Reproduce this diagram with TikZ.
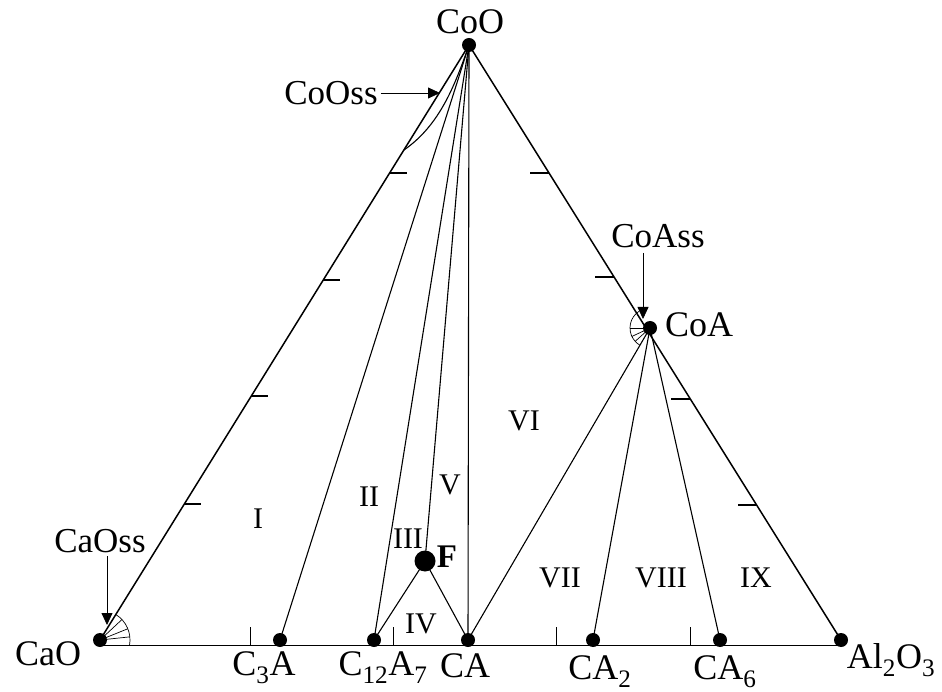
\documentclass[tikz,border=0pt]{standalone}
\usepackage{fontspec}
\setmainfont{Liberation Serif}
\usetikzlibrary{arrows.meta}
\begin{document}
\begin{tikzpicture}[x=1pt,y=-1pt,
  dot/.style={circle,fill=black,inner sep=0pt,minimum size=14pt},
  bigdot/.style={circle,fill=black,inner sep=0pt,minimum size=21pt},
  lab/.style={font=\fontsize{36}{40}\selectfont,inner sep=0pt},
  sslab/.style={font=\fontsize{35}{38}\selectfont,inner sep=0pt},
  reg/.style={font=\fontsize{30}{34}\selectfont,inner sep=0pt},
  flab/.style={font=\fontsize{33}{36}\selectfont\bfseries,inner sep=0pt},
  edgeline/.style={line width=1.5pt},
  tie/.style={line width=1.1pt},
  fine/.style={line width=0.7pt},
  arr/.style={line width=0.8pt,-{Triangle[length=12pt,width=11pt]}},
]
\useasboundingbox (0,0) rectangle (942,692);
% points
\node[dot] (CoO) at (469,45) {};
\node[dot] (CaO) at (100,640) {};
\node[dot] (Al2O3) at (841,640) {};
\node[dot] (C3A) at (280,640) {};
\node[dot] (C12A7) at (374,640) {};
\node[dot] (CA) at (468,640) {};
\node[dot] (CA2) at (593,640) {};
\node[dot] (CA6) at (720,640) {};
\node[dot] (CoA) at (650,328) {};
\node[bigdot] (F) at (425,561) {};
\coordinate (B0) at (100,645);
\coordinate (B1) at (841,645);
% baseline and edges
\draw[fine] (B0) -- (B1);
\draw[edgeline] (CoO.center) -- (CaO.center);
\draw[edgeline] (CoO.center) -- (Al2O3.center);
% tie lines
\draw[tie] (CoO.center) -- (C3A.center);
\draw[tie] (CoO.center) -- (C12A7.center);
\draw[tie] (CoO.center) -- (F.center);
\draw[tie] (CoO.center) -- (CA.center);
\draw[tie] (F.center) -- (C12A7.center);
\draw[tie] (F.center) -- (CA.center);
\draw[tie] (CoA.center) -- (CA.center);
\draw[tie] (CoA.center) -- (CA2.center);
\draw[tie] (CoA.center) -- (CA6.center);
% CoOss boundary
\coordinate (Lss) at (404,150);
\draw[tie] (CoO.center) .. controls (455,85) and (440,125) .. (Lss);
% CaO fan
\draw[fine] (CaO.center) ++(-58:30) arc[start angle=-58,end angle=10,radius=30];
\foreach \a in {-43,-22,-6} \draw[fine] (CaO.center) -- ++(\a:30);
% CoA fan
\draw[fine] (CoA.center) ++(-122.5:20) arc[start angle=-122.5,end angle=-240,radius=20];
\foreach \a in {-180,-205,-222} \draw[fine] (CoA.center) -- ++(\a:20);
% ticks, left edge
\foreach \y in {173,280,396,504} \draw[tie] ({469-(\y-45)*0.6202},\y) -- ++(17,0);
% ticks, right edge
\foreach \y in {173,277,399,505} \draw[tie] ({469+(\y-45)*0.6252},\y) -- ++(-19,0);
% ticks, base
\foreach \x in {250,393,556,690} \draw[fine] (\x,645) -- (\x,627);
% labels
\node[lab] (tCoO) at (470,22) {CoO};
\node[lab] (tCaO) at (48,654) {CaO};
\node[lab] (tAl) at (891,660) {Al\textsubscript{2}O\textsubscript{3}};
\node[lab] (tC3A) at (264,668) {C\textsubscript{3}A};
\node[lab] (tC12A7) at (383,668) {C\textsubscript{12}A\textsubscript{7}};
\node[lab] (tCA) at (465,666) {CA};
\node[lab] (tCA2) at (600,672) {CA\textsubscript{2}};
\node[lab] (tCA6) at (725,672) {CA\textsubscript{6}};
\node[lab] (tCoA) at (699,325) {CoA};
\node[flab] (tF) at (447,557) {F};
% ss labels and arrows
\node[sslab] (tCoOss) at (331,93) {CoOss};
\coordinate (aCoOss) at (440,93);
\draw[arr] (tCoOss.east) ++(3,0) -- (aCoOss);
\node[sslab] (tCaOss) at (100,541) {CaOss};
\coordinate (aCaOss) at (107,625);
\draw[arr] (107,556) -- (aCaOss);
\node[sslab] (tCoAss) at (658,236) {CoAss};
\coordinate (aCoAss) at (643,319);
\draw[arr] (643,253) -- (aCoAss);
% region numerals
\node[reg] (rI) at (258,519) {I};
\node[reg] (rII) at (369,497) {II};
\node[reg] (rIII) at (408,539) {III};
\node[reg] (rIV) at (421,624) {IV};
\node[reg] (rV) at (450,485) {V};
\node[reg] (rVI) at (524,421) {VI};
\node[reg] (rVII) at (560,578) {VII};
\node[reg] (rVIII) at (661,578) {VIII};
\node[reg] (rIX) at (756,578) {IX};
\end{tikzpicture}
\end{document}
